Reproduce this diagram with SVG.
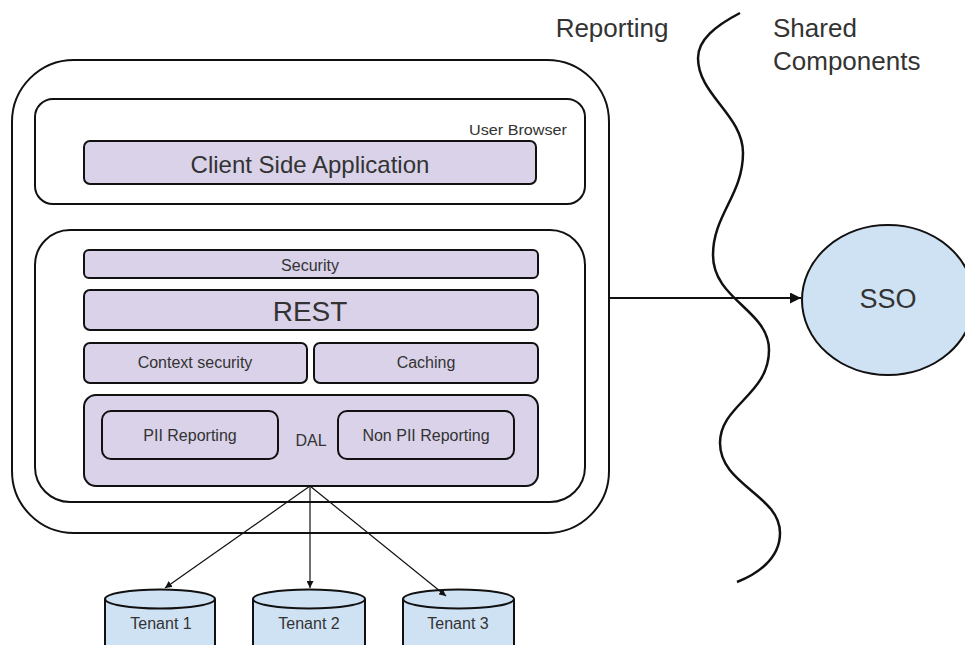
<svg xmlns="http://www.w3.org/2000/svg" width="965" height="645" viewBox="0 0 965 645">
<style>
text { font-family: "Liberation Sans", Arial, sans-serif; fill: #333; text-anchor: middle; }
.frame { fill: #fff; stroke: #111; stroke-width: 2; }
.comp { fill: #d9d2e9; stroke: #111; stroke-width: 2; }
.db { fill: #cfe2f3; stroke: #111; stroke-width: 2; }
.conn { fill: none; stroke: #111; }
</style>
<defs>
<marker id="ah" viewBox="0 0 10 10" refX="10" refY="5" markerWidth="7" markerHeight="7" markerUnits="userSpaceOnUse" orient="auto">
<path d="M0,0 L10,5 L0,10 Z" fill="#111"/>
</marker>
<marker id="ahBig" viewBox="0 0 10 10" refX="10" refY="5" markerWidth="14" markerHeight="11" markerUnits="userSpaceOnUse" orient="auto">
<path d="M0,0 L10,5 L0,10 Z" fill="#111"/>
</marker>
</defs>

<g id="labels">
<text x="612" y="37" font-size="26">Reporting</text>
<text x="773" y="37" font-size="26" style="text-anchor:start">Shared</text>
<text x="773" y="70" font-size="26" style="text-anchor:start">Components</text>
</g>

<g id="divider">
<path class="conn" stroke-width="2.5" d="M740,13 C715,26 698,40 698,58 C698,95 743,115 743,153 C743,195 713,215 713,255 C713,300 769,310 769,350 C769,395 720,405 720,443 C720,485 780,495 780,533 C780,560 755,575 737,582"/>
</g>

<g id="reporting">
<rect class="frame" x="12" y="60" width="597" height="473" rx="62"/>
</g>

<g id="user-browser">
<rect class="frame" x="35" y="99" width="550" height="105" rx="18"/>
<text x="469" y="135" font-size="14" style="text-anchor:start" textLength="98" lengthAdjust="spacingAndGlyphs">User Browser</text>
</g>

<g id="client-side-application">
<rect class="comp" x="84" y="141" width="452" height="43" rx="6"/>
<text x="310" y="173" font-size="24">Client Side Application</text>
</g>

<g id="server">
<rect class="frame" x="35" y="230" width="550" height="272" rx="35"/>
</g>

<g id="security">
<rect class="comp" x="84" y="250" width="454" height="28" rx="5"/>
<text x="310" y="271" font-size="16">Security</text>
</g>

<g id="rest">
<rect class="comp" x="84" y="290" width="454" height="40" rx="6"/>
<text x="310" y="321" font-size="28">REST</text>
</g>

<g id="context-security">
<rect class="comp" x="84" y="343" width="223" height="40" rx="6"/>
<text x="195" y="368" font-size="16">Context security</text>
</g>

<g id="caching">
<rect class="comp" x="314" y="343" width="224" height="40" rx="6"/>
<text x="426" y="368" font-size="16">Caching</text>
</g>

<g id="dal">
<rect class="comp" x="84" y="395" width="454" height="91" rx="12"/>
<text x="311" y="446" font-size="16">DAL</text>
</g>

<g id="pii-reporting">
<rect class="comp" x="102" y="411" width="176" height="48" rx="9"/>
<text x="190" y="441" font-size="16">PII Reporting</text>
</g>

<g id="non-pii-reporting">
<rect class="comp" x="338" y="411" width="176" height="48" rx="9"/>
<text x="426" y="441" font-size="16">Non PII Reporting</text>
</g>

<g id="tenant-1">
<path class="db" d="M105,599 L105,650 L215,650 L215,599"/>
<ellipse class="db" cx="160" cy="599" rx="55" ry="9.5"/>
<text x="161" y="629" font-size="16">Tenant 1</text>
</g>

<g id="tenant-2">
<path class="db" d="M253,599 L253,650 L365,650 L365,599"/>
<ellipse class="db" cx="309" cy="599" rx="56" ry="9.5"/>
<text x="309" y="629" font-size="16">Tenant 2</text>
</g>

<g id="tenant-3">
<path class="db" d="M403,599 L403,650 L514,650 L514,599"/>
<ellipse class="db" cx="458.5" cy="599" rx="55.5" ry="9.5"/>
<text x="458" y="629" font-size="16">Tenant 3</text>
</g>

<g id="sso">
<ellipse class="db" cx="888" cy="300" rx="86" ry="75"/>
<text x="888" y="308" font-size="27">SSO</text>
</g>

<g id="connectors">
<line class="conn" stroke-width="2" x1="609" y1="298" x2="801" y2="298" marker-end="url(#ahBig)"/>
<line class="conn" stroke-width="1.2" x1="310" y1="486" x2="165" y2="588" marker-end="url(#ah)"/>
<line class="conn" stroke-width="1.2" x1="310" y1="486" x2="310" y2="588" marker-end="url(#ah)"/>
<line class="conn" stroke-width="1.2" x1="310" y1="486" x2="446" y2="596" marker-end="url(#ah)"/>
</g>
</svg>
